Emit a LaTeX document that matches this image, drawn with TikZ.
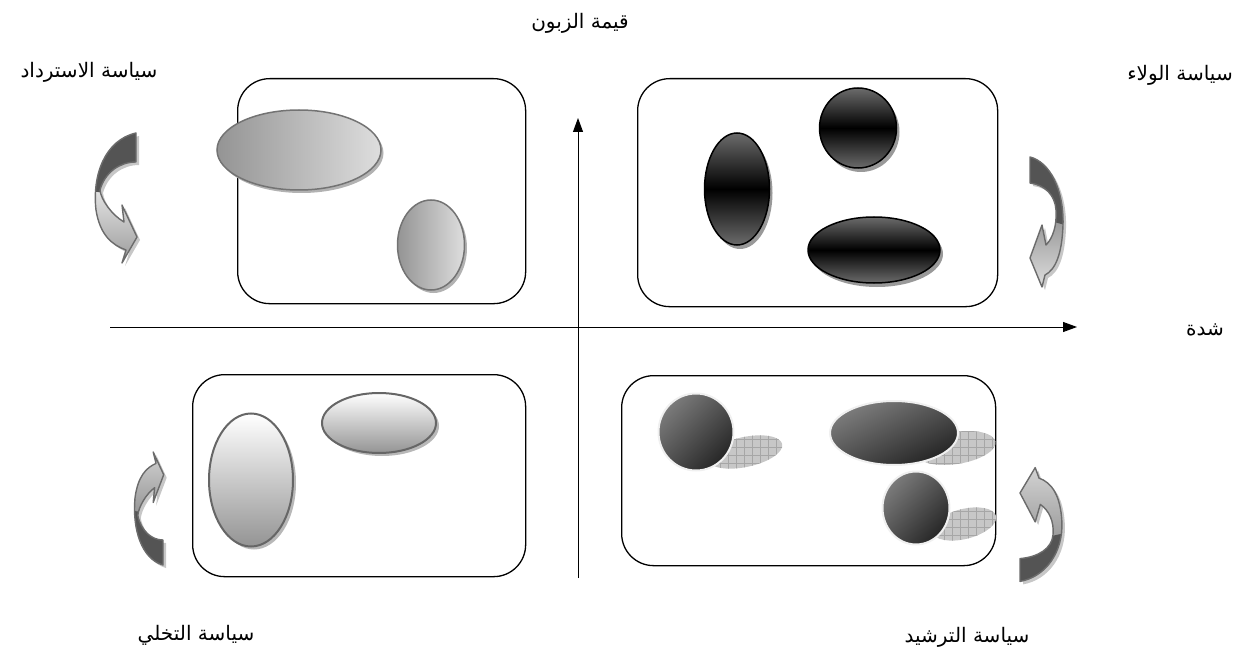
\documentclass[tikz,border=0pt]{standalone}
\usepackage{fontspec}
\newfontfamily\arabicfont[Script=Arabic]{DejaVu Sans}
\TeXXeTstate=1
\usetikzlibrary{shapes.geometric,arrows.meta,patterns.meta,shadows,shadings}
\begin{document}
\begin{tikzpicture}[x=1pt,y=-1pt,
  lbl/.style={font=\arabicfont\fontsize{20}{24}\selectfont,inner sep=0pt},
  quad/.style={draw=black,line width=1.3pt,rounded corners=32pt,inner sep=0pt,anchor=north west},
  axisline/.style={line width=0.9pt,-{Triangle[length=14pt,width=10pt]}},
  basell/.style={ellipse,inner sep=0pt},
  tlell/.style={basell,draw=black!55,line width=1.5pt,left color=black!42,right color=black!13,
    drop shadow={shadow xshift=2.5pt,shadow yshift=-3pt,fill=black!30,opacity=1}},
  trell/.style={basell,draw=black,line width=1.5pt,top color=black!58,bottom color=black!58,middle color=black,
    drop shadow={shadow xshift=3pt,shadow yshift=-4pt,fill=black!40,opacity=1}},
  blell/.style={basell,draw=black!60,line width=2pt,top color=white,bottom color=black!42,
    drop shadow={shadow xshift=3pt,shadow yshift=-3pt,fill=black!28,opacity=1}},
  brell/.style={basell,draw=black!6,line width=2pt,upper left=black!45,upper right=black!68,lower left=black!68,lower right=black!92},
  shadowfill/.style={fill=black!22},
  shadowhatch/.style={pattern={Hatch[distance=8pt,line width=0.4pt]},pattern color=black!35},
  arrline/.style={draw=black!58,line width=1.4pt,line join=round},
  arrdark/.style={fill=black!67},
  arrshadow/.style={fill=black!22}
]
\useasboundingbox (0,0) rectangle (1237,655);

% ---------- quadrant boxes
\node[quad,minimum width=288pt,minimum height=225pt] (tlbox) at (237,78) {};
\node[quad,minimum width=360pt,minimum height=228pt] (trbox) at (637,78) {};
\node[quad,minimum width=333pt,minimum height=202pt] (blbox) at (192,374) {};
\node[quad,minimum width=374pt,minimum height=190pt] (brbox) at (621,375) {};

% ---------- axes
\coordinate (vb) at (578,578);
\coordinate (vt) at (578,118);
\coordinate (hl) at (110,327);
\coordinate (hr) at (1077,327);
\draw[axisline] (vb) -- (vt);
\draw[axisline] (hl) -- (hr);

% ---------- labels
\node[lbl] (ylab) at (580,23) {\beginR قيمة الزبون\endR};
\node[lbl] (recov) at (89,72) {\beginR سياسة الاسترداد\endR};
\node[lbl] (loyal) at (1180,75) {\beginR سياسة الولاء\endR};
\node[lbl] (xlab) at (1205,330) {\beginR شدة\endR};
\node[lbl] (aband) at (196,635) {\beginR سياسة التخلي\endR};
\node[lbl] (ration) at (967,637) {\beginR سياسة الترشيد\endR};

% ---------- top-left ellipses
\node[tlell,minimum width=164pt,minimum height=80pt] (tl1) at (299,150) {};
\node[tlell,minimum width=67pt,minimum height=90pt] (tl2) at (431,245) {};

% ---------- top-right ellipses
\node[trell,minimum width=65pt,minimum height=112pt] (tr1) at (737,189) {};
\node[trell,minimum width=77pt,minimum height=80pt] (tr2) at (858,128) {};
\node[trell,minimum width=132pt,minimum height=66pt] (tr3) at (874,250) {};

% ---------- bottom-left ellipses
\node[blell,minimum width=84pt,minimum height=133pt] (bl1) at (251,480) {};
\node[blell,minimum width=114pt,minimum height=60pt] (bl2) at (379,423) {};

% ---------- bottom-right shadows and balls
\foreach \cx/\cy/\rx/\ry/\ang in {745/452/38/15/12, 956/448/40/16/9, 964/524/33/15/14}{
  \fill[shadowfill,rotate around={\ang:(\cx,\cy)}] (\cx,\cy) ellipse [x radius=\rx,y radius=\ry];
  \fill[shadowhatch,rotate around={\ang:(\cx,\cy)}] (\cx,\cy) ellipse [x radius=\rx,y radius=\ry];
}
\node[brell,minimum width=75pt,minimum height=77pt] (br1) at (696,432) {};
\node[brell,minimum width=128pt,minimum height=64pt] (br2) at (894,433) {};
\node[brell,minimum width=67pt,minimum height=73pt] (br3) at (916,508) {};

% ---------- curved arrows
\def\tla{(136,133) .. controls (105,140) and (92,175) .. (96,210) .. controls (100,235) and (112,245) .. (126,250) -- (122,263) -- (137,237) -- (122,205) -- (124,222) .. controls (112,215) and (101,200) .. (100,190) .. controls (105,172) and (120,162) .. (136,162) -- cycle}
\def\tra{(1030,157) .. controls (1050,162) and (1064,190) .. (1063,225) .. controls (1062,255) and (1055,270) .. (1045,275) -- (1042,287) -- (1030,258) -- (1042,225) -- (1046,245) .. controls (1053,238) and (1057,225) .. (1056,210) .. controls (1055,195) and (1045,185) .. (1030,183) -- cycle}
\def\bla{(163,565) .. controls (141.3,559) and (132.2,528.6) .. (135,498) .. controls (137.8,476.4) and (146.2,467.7) .. (156,463.4) -- (153.2,452) -- (163.7,474.7) -- (153.2,502.5) -- (154.6,487.7) .. controls (146.2,493.8) and (138.5,506.9) .. (137.8,515.6) .. controls (141.3,531.2) and (151.8,540) .. (163,540) -- cycle}
\def\bra{(1020,581.4) .. controls (1045.4,577) and (1063.2,552.5) .. (1061.9,521.9) .. controls (1060.6,495.6) and (1051.8,482.5) .. (1039,478.1) -- (1035.2,467.6) -- (1020,493) -- (1035.2,521.9) -- (1040.3,504.4) .. controls (1049.2,510.5) and (1054.3,521.9) .. (1053,535) .. controls (1051.8,548.1) and (1039,556.9) .. (1020,558.6) -- cycle}

% shadows
\fill[arrshadow,shift={(3,3)}] \tla;
\fill[arrshadow,shift={(3,3)}] \tra;
\fill[arrshadow,shift={(3,3)}] \bla;
\fill[arrshadow,shift={(3,3)}] \bra;

% top-left arrow
\begin{scope}
  \clip \tla;
  \shade[top color=black!12,bottom color=black!42] (80,193) rectangle (150,270);
  \fill[arrdark] (80,120) -- (150,120) -- (150,198) -- (80,190) -- cycle;
\end{scope}
\draw[arrline] \tla;

% top-right arrow
\begin{scope}
  \clip \tra;
  \shade[top color=black!42,bottom color=black!10] (1020,215) rectangle (1075,295);
  \fill[arrdark] (1020,150) -- (1075,150) -- (1075,228) -- (1020,212) -- cycle;
\end{scope}
\draw[arrline] \tra;

% bottom-left arrow
\begin{scope}
  \clip \bla;
  \shade[top color=black!15,bottom color=black!42] (125,445) rectangle (170,515);
  \fill[arrdark] (125,510) -- (170,515) -- (170,575) -- (125,575) -- cycle;
\end{scope}
\draw[arrline] \bla;

% bottom-right arrow
\begin{scope}
  \clip \bra;
  \shade[top color=black!15,bottom color=black!40] (1010,460) rectangle (1070,540);
  \fill[arrdark] (1010,545) -- (1070,532) -- (1070,590) -- (1010,590) -- cycle;
\end{scope}
\draw[arrline] \bra;

\end{tikzpicture}
\end{document}
